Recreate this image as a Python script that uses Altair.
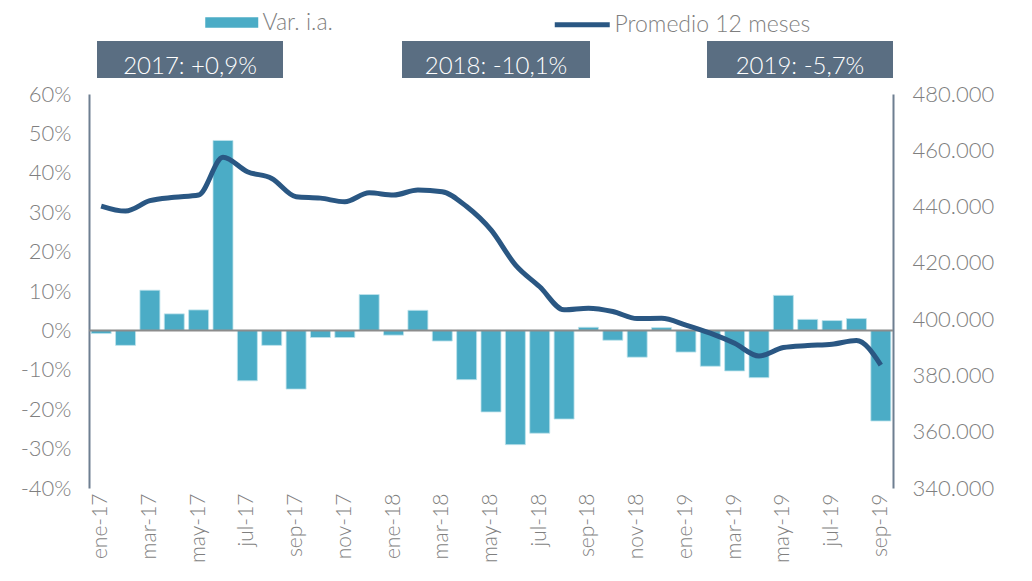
import altair as alt
import pandas as pd

months = ["ene-17","feb-17","mar-17","abr-17","may-17","jun-17","jul-17","ago-17","sep-17","oct-17","nov-17","dic-17",
          "ene-18","feb-18","mar-18","abr-18","may-18","jun-18","jul-18","ago-18","sep-18","oct-18","nov-18","dic-18",
          "ene-19","feb-19","mar-19","abr-19","may-19","jun-19","jul-19","ago-19","sep-19"]
var_ia = [-0.008,-0.038,0.102,0.042,0.052,0.482,-0.128,-0.038,-0.149,-0.018,-0.018,0.091,
          -0.012,0.051,-0.027,-0.125,-0.207,-0.290,-0.261,-0.225,0.008,-0.025,-0.068,0.007,
          -0.055,-0.091,-0.103,-0.120,0.089,0.028,0.025,0.030,-0.230]
promedio = [440200,438400,442100,443300,444100,457500,452400,450000,443500,443000,441700,444900,
            444100,445900,445300,440000,431700,419300,411500,403300,403900,402700,400200,400300,
            397900,395000,391400,386900,389900,390600,391100,392400,383700]
tick_months = months[::2]
left_ticks = [-0.4, -0.3, -0.2, -0.1, 0.0, 0.1, 0.2, 0.3, 0.4, 0.5, 0.6]
right_ticks = [340000, 360000, 380000, 400000, 420000, 440000, 460000, 480000]
annotations = ["2017: +0,9%", "2018: -10,1%", "2019: -5,7%"]

df = pd.DataFrame({"mes": months, "var": var_ia, "prom": promedio,
                   "s1": "Var. i.a.", "s2": "Promedio 12 meses"})

FONT = "Lato"
GRAY = "#7F7F7F"
AXIS_LINE = "#6E7F91"

x = alt.X("mes:N", sort=months, title=None,
          scale=alt.Scale(paddingInner=0.18, paddingOuter=0.09),
          axis=alt.Axis(values=tick_months, labelAngle=-90, domain=False, ticks=False,
                        labelPadding=5, labelFontSize=21, labelColor=GRAY, labelFont=FONT,
                        labelFontWeight=300, labelOverlap=False))

yleft = alt.Scale(domain=[-0.4, 0.6], nice=False)
axis_left = alt.Axis(values=left_ticks,
                     labelExpr="replace(format(datum.value, '.0%'), '\u2212', '-')",
                     grid=False, ticks=False, domainColor=AXIS_LINE, domainWidth=2,
                     labelPadding=18, labelFontSize=22, labelColor=GRAY,
                     labelFont=FONT, labelFontWeight=300, labelOverlap=False)

bars = alt.Chart(df).mark_bar(color="#4BACC6", stroke="#BFE3EC", strokeWidth=0.8).encode(
    x=x,
    y=alt.Y("var:Q", scale=yleft, title=None, axis=axis_left),
    fill=alt.Fill("s1:N", scale=alt.Scale(range=["#4BACC6"]), title=None,
                  legend=alt.Legend(orient="none", legendX=129.25, legendY=-85,
                                    symbolType="M-2,-0.4H2V0.4H-2Z", symbolSize=702,
                                    symbolStrokeWidth=0, labelFontSize=23, labelColor=GRAY,
                                    labelFont=FONT, labelFontWeight=300, labelOffset=17.25,
                                    labelLimit=0, padding=0))
)

zero = alt.Chart(pd.DataFrame({"var": [0.0]})).mark_rule(color="#8C8C8C", strokeWidth=2).encode(
    y=alt.Y("var:Q", scale=yleft, title=None, axis=axis_left)
)

left = alt.layer(bars, zero)

line = alt.Chart(df).mark_line(strokeWidth=5, interpolate="monotone").encode(
    x=alt.X("mes:N", sort=months),
    y=alt.Y("prom:Q", scale=alt.Scale(domain=[340000, 480000], nice=False), title=None,
            axis=alt.Axis(orient="right", values=right_ticks,
                          labelExpr="replace(format(datum.value, ','), ',', '.')",
                          grid=False, ticks=False, domainColor=AXIS_LINE, domainWidth=2,
                          labelPadding=19, labelFontSize=22, labelColor=GRAY,
                          labelFont=FONT, labelFontWeight=300, labelOverlap=False)),
    stroke=alt.Stroke("s2:N", scale=alt.Scale(range=["#2A5783"]), title=None,
                      legend=alt.Legend(orient="none", legendX=476.75, legendY=-85.75,
                                        symbolType="M-2,0H2", symbolSize=756,
                                        symbolStrokeWidth=5, labelFontSize=23, labelColor=GRAY,
                                        labelFont=FONT, labelFontWeight=300, labelOffset=15.75,
                                        labelLimit=0, padding=0))
)

box_layers = []
box_pos = [(8, 194), (313, 501), (618, 804)]
one = alt.Data(values=[{}])
for (x0, x1), txt in zip(box_pos, annotations):
    box_layers.append(alt.Chart(one).mark_rect(color="#5A6E82").encode(
        x=alt.value(x0), x2=alt.value(x1), y=alt.value(-53), y2=alt.value(-16)))
    box_layers.append(alt.Chart(one).mark_text(text=txt, color="white", fontSize=24,
                                               font=FONT, fontWeight=300, baseline="middle",
                                               align="center").encode(
        x=alt.value((x0 + x1) / 2), y=alt.value(-27)))

chart = alt.layer(left, line, *box_layers).resolve_scale(
    y="independent", fill="independent", stroke="independent"
).properties(
    width=804, height=394,
    padding={"left": 81, "top": 86, "right": 120, "bottom": 80},
    autosize="none",
).configure(font=FONT).configure_view(stroke=None)

chart.save("out.html", embed_options={"renderer": "svg", "actions": False})
